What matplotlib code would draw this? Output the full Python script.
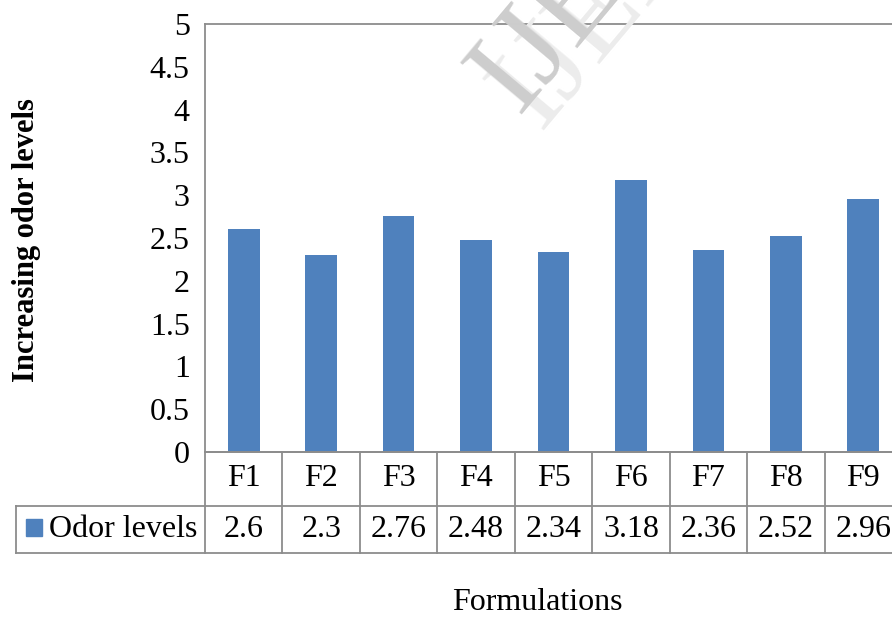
import matplotlib
matplotlib.use("Agg")
import matplotlib.pyplot as plt
from matplotlib.transforms import blended_transform_factory

categories = ["F1", "F2", "F3", "F4", "F5", "F6", "F7", "F8", "F9"]
odor_levels = [2.6, 2.3, 2.76, 2.48, 2.34, 3.18, 2.36, 2.52, 2.96]
value_labels = ["2.6", "2.3", "2.76", "2.48", "2.34", "3.18", "2.36", "2.52", "2.96"]
series_name = "Odor levels"
yticks = [0, 0.5, 1, 1.5, 2, 2.5, 3, 3.5, 4, 4.5, 5]
ytick_labels = ["0", "0.5", "1", "1.5", "2", "2.5", "3", "3.5", "4", "4.5", "5"]

W, H = 892, 617
plt.rcParams['font.family'] = ['Liberation Serif', 'DejaVu Serif']
fig = plt.figure(figsize=(W / 100, H / 100), dpi=100)

def fx(px):
    return px / W

def fy(py):
    return 1 - py / H

FS = 23
left, right, top, bottom = 205, 902, 24, 452

# watermark (behind everything)
fig.text(fx(540), fy(130), "IJERA", rotation=50, fontsize=88, color='#ececec',
         ha='left', va='baseline', rotation_mode='anchor', zorder=0)
fig.text(fx(518), fy(114), "IJERA", rotation=50, fontsize=88, color='#cdcdcd',
         ha='left', va='baseline', rotation_mode='anchor', zorder=0)

ax = fig.add_axes([fx(left), fy(bottom), fx(right - left), fy(top) - fy(bottom)])
ax.patch.set_alpha(0)
bar_color = "#4F81BD"
grey = "#8c8c8c"
x = list(range(len(categories)))
ax.bar(x, odor_levels, width=0.41, color=bar_color, zorder=2)
ax.set_xlim(-0.5, len(categories) - 0.5)
ax.set_ylim(0, 5)
ax.set_yticks(yticks)
ax.set_yticklabels(ytick_labels, fontsize=FS)
ax.tick_params(axis='y', length=0, pad=11)
ax.set_xticks([])
for s in ax.spines.values():
    s.set_color(grey)
    s.set_linewidth(1.3)

# data table drawn below the axes
tr = blended_transform_factory(ax.transData, fig.transFigure)
row1_top, row1_bot, row2_bot = 452, 506, 553
legend_left_x = -0.5 - (left - 16) / ((right - left) / len(categories))
lkw = dict(color=grey, lw=1.3, transform=tr, clip_on=False)
fig.add_artist(plt.Line2D([-0.5, len(categories) - 0.5], [fy(row1_top)] * 2, **lkw))
fig.add_artist(plt.Line2D([legend_left_x, len(categories) - 0.5], [fy(row1_bot)] * 2, **lkw))
fig.add_artist(plt.Line2D([legend_left_x, len(categories) - 0.5], [fy(row2_bot)] * 2, **lkw))
for i in range(len(categories) + 1):
    fig.add_artist(plt.Line2D([i - 0.5] * 2, [fy(row1_top), fy(row2_bot)], **lkw))
fig.add_artist(plt.Line2D([legend_left_x] * 2, [fy(row1_bot), fy(row2_bot)], **lkw))

for i, (c, v) in enumerate(zip(categories, value_labels)):
    fig.text(i, fy((row1_top + row1_bot) / 2), c, transform=tr, ha='center', va='center', fontsize=FS)
    fig.text(i, fy((row1_bot + row2_bot) / 2), v, transform=tr, ha='center', va='center', fontsize=FS)

# legend key in table
fig.add_artist(plt.Rectangle((fx(26), fy(536)), fx(16), fy(519) - fy(536), color=bar_color,
                             transform=fig.transFigure))
fig.text(fx(49), fy((row1_bot + row2_bot) / 2), series_name, ha='left', va='center', fontsize=FS)

# axis titles
fig.text(fx(27), fy(240), "Increasing odor levels", rotation=90, ha='center', va='center',
         fontsize=22, fontweight='bold')
fig.text(fx(537), fy(603), "Formulations", ha='center', va='center', fontsize=FS)

fig.savefig("out.png", dpi=100)
